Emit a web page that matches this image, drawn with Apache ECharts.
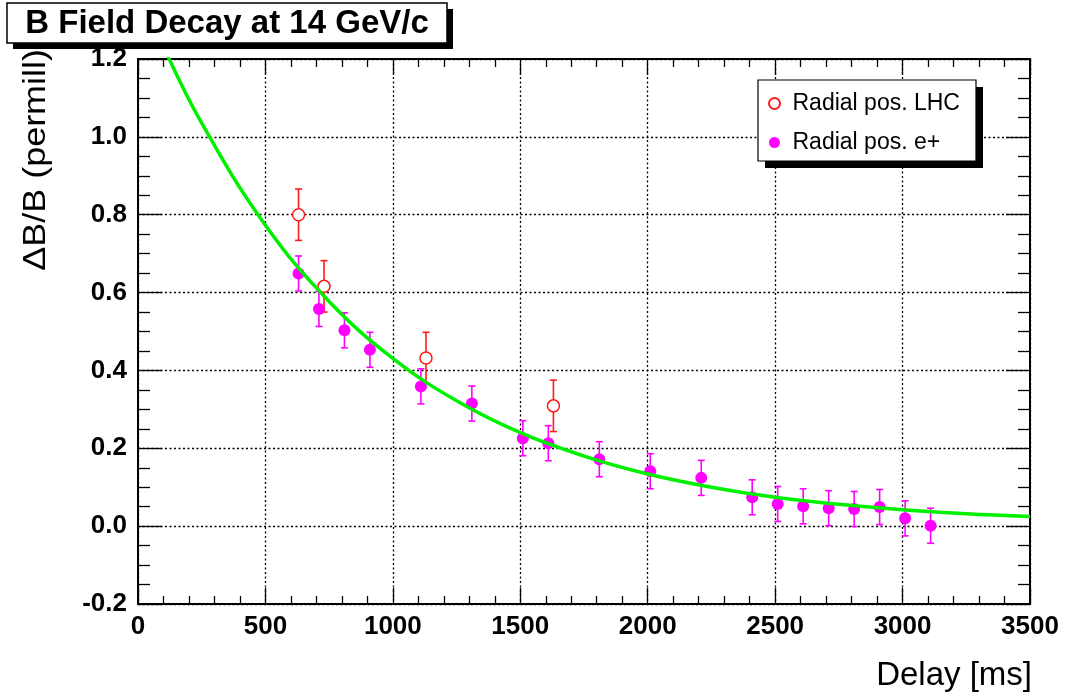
<!DOCTYPE html>
<html>
<head>
<meta charset="utf-8">
<title>B Field Decay at 14 GeV/c</title>
<script src="https://cdn.jsdelivr.net/npm/echarts@6/dist/echarts.min.js"></script>
<style>
  html, body { margin: 0; padding: 0; background: #fff; }
  #chart { width: 1069px; height: 698px; }
</style>
</head>
<body>
<div id="chart"></div>
<script>
const FONT = '"Liberation Sans", Arial, Helvetica, sans-serif';

// Axis ticks
const xTicks = [0, 500, 1000, 1500, 2000, 2500, 3000, 3500];
const yTicks = [-0.2, 0.0, 0.2, 0.4, 0.6, 0.8, 1.0, 1.2];

// Radial position, LHC beam (delay in ms, dB/B in permill, error)
const lhcDelay = [630, 730, 1130, 1630];
const lhcValue = [0.800, 0.616, 0.432, 0.309];
const lhcError = [0.066, 0.066, 0.066, 0.066];

// Radial position, e+ beam
const epDelay = [630, 710, 810, 910, 1110, 1310, 1510, 1610, 1810, 2010,
                 2210, 2410, 2510, 2610, 2710, 2810, 2910, 3010, 3110];
const epValue = [0.649, 0.558, 0.503, 0.453, 0.359, 0.315, 0.226, 0.213, 0.172, 0.141,
                 0.124, 0.074, 0.057, 0.051, 0.046, 0.044, 0.049, 0.020, 0.001];
const epError = [0.045, 0.045, 0.045, 0.045, 0.045, 0.045, 0.045, 0.045, 0.045, 0.045,
                 0.045, 0.045, 0.045, 0.045, 0.045, 0.045, 0.045, 0.045, 0.045];

// Exponential decay fit, sampled along the delay axis
const fitDelay = [100, 250, 500, 750, 1000, 1250, 1500, 1750, 2000, 2250, 2500, 2750, 3000, 3250, 3500];
const fitValue = [1.232, 1.035, 0.773, 0.577, 0.431, 0.322, 0.240, 0.180, 0.134, 0.100, 0.074, 0.056, 0.042, 0.032, 0.025];

const LHC_NAME = 'Radial pos. LHC';
const EP_NAME = 'Radial pos. e+';

const xMin = xTicks[0], xMax = xTicks[xTicks.length - 1], xStep = xTicks[1] - xTicks[0];
const yMin = yTicks[0], yMax = yTicks[yTicks.length - 1];
const yStep = Math.round((yTicks[1] - yTicks[0]) * 1000) / 1000;

function errorRows(xs, vs, es) {
  return xs.map((x, i) => [x, vs[i] - es[i], vs[i] + es[i]]);
}

// Vertical error bar with short caps at both ends
function errorBar(color) {
  return function (params, api) {
    const x = api.value(0);
    const top = api.coord([x, api.value(2)]);
    const bot = api.coord([x, api.value(1)]);
    const half = 3.5;
    const style = { stroke: color, lineWidth: 1.6 };
    return {
      type: 'group',
      children: [
        { type: 'line', shape: { x1: top[0], y1: top[1], x2: bot[0], y2: bot[1] }, style },
        { type: 'line', shape: { x1: top[0] - half, y1: top[1], x2: top[0] + half, y2: top[1] }, style },
        { type: 'line', shape: { x1: bot[0] - half, y1: bot[1], x2: bot[0] + half, y2: bot[1] }, style }
      ]
    };
  };
}

const frameLine = { color: '#000', width: 2 };
const gridDots = { color: '#000', width: 1.3, type: [2, 2.5] };

function xAxisDef(position, main) {
  return {
    type: 'value', position, min: xMin, max: xMax, interval: xStep,
    axisLine: { show: true, onZero: false, lineStyle: frameLine },
    axisTick: { show: true, inside: true, length: 16, lineStyle: { color: '#000', width: 1.3 } },
    minorTick: { show: true, splitNumber: 5, length: 8, lineStyle: { color: '#000', width: 1.3 } },
    splitLine: { show: main, lineStyle: gridDots },
    axisLabel: main ? {
      show: true, color: '#000', fontFamily: FONT, fontWeight: 'bold', fontSize: 26, margin: 10,
      formatter: v => String(v)
    } : { show: false }
  };
}

function yAxisDef(position, main) {
  return {
    type: 'value', position, min: yMin, max: yMax, interval: yStep,
    axisLine: { show: true, onZero: false, lineStyle: frameLine },
    axisTick: { show: true, inside: true, length: 24, lineStyle: { color: '#000', width: 1.3 } },
    minorTick: { show: true, splitNumber: 4, length: 12, lineStyle: { color: '#000', width: 1.3 } },
    splitLine: { show: main, lineStyle: gridDots },
    axisLabel: main ? {
      show: true, color: '#000', fontFamily: FONT, fontWeight: 'bold', fontSize: 26, margin: 11,
      padding: [3, 0, 0, 0],
      formatter: v => v.toFixed(1)
    } : { show: false }
  };
}

const chart = echarts.init(document.getElementById('chart'), null, { renderer: 'canvas' });

chart.setOption({
  backgroundColor: '#fff',
  animation: false,
  grid: {
    left: 138, right: 39, top: 59, bottom: 94,
    show: true, borderColor: '#000', borderWidth: 2, backgroundColor: 'transparent',
    containLabel: false, outerBoundsMode: 'none'
  },
  xAxis: [xAxisDef('bottom', true), xAxisDef('top', false)],
  yAxis: [yAxisDef('left', true), yAxisDef('right', false)],
  legend: {
    data: [LHC_NAME, EP_NAME],
    orient: 'vertical',
    left: 768, top: 92,
    padding: 0,
    itemGap: 16,
    itemWidth: 26, itemHeight: 11,
    selectedMode: false,
    z: 6,
    textStyle: { color: '#000', fontFamily: FONT, fontSize: 23, lineHeight: 23 }
  },
  graphic: [
    // title box with drop shadow
    { type: 'rect', z: 3, shape: { x: 13, y: 9, width: 440, height: 40 }, style: { fill: '#000' } },
    { type: 'rect', z: 4, shape: { x: 7, y: 3, width: 440, height: 40 },
      style: { fill: '#fff', stroke: '#000', lineWidth: 1.5 } },
    { type: 'text', z: 5, x: 227, y: 24,
      style: { text: 'B Field Decay at 14 GeV/c', font: 'bold 33px ' + FONT, fill: '#000',
               textAlign: 'center', textVerticalAlign: 'middle' } },
    // legend box with drop shadow
    { type: 'rect', z: 3, shape: { x: 765, y: 87, width: 218, height: 81 }, style: { fill: '#000' } },
    { type: 'rect', z: 4, shape: { x: 758, y: 80, width: 218, height: 81 },
      style: { fill: '#fff', stroke: '#000', lineWidth: 1.2 } },
    // axis titles
    { type: 'text', z: 5, x: 36, y: 49, rotation: Math.PI / 2, scaleX: 1.16,
      style: { text: '\u0394B/B (permill)', font: '31px ' + FONT, fill: '#000',
               textAlign: 'right', textVerticalAlign: 'middle' } },
    { type: 'text', z: 5, x: 1032, y: 676,
      style: { text: 'Delay [ms]', font: '33px ' + FONT, fill: '#000',
               textAlign: 'right', textVerticalAlign: 'middle' } }
  ],
  series: [
    {
      type: 'custom', xAxisIndex: 0, yAxisIndex: 0, z: 2,
      renderItem: errorBar('#ff00ff'),
      encode: { x: 0, y: [1, 2] },
      data: errorRows(epDelay, epValue, epError)
    },
    {
      type: 'custom', xAxisIndex: 0, yAxisIndex: 0, z: 2,
      renderItem: errorBar('#ff1a1a'),
      encode: { x: 0, y: [1, 2] },
      data: errorRows(lhcDelay, lhcValue, lhcError)
    },
    {
      name: EP_NAME, type: 'scatter', xAxisIndex: 0, yAxisIndex: 0, z: 3,
      symbol: 'circle', symbolSize: 12,
      itemStyle: { color: '#ff00ff', opacity: 1 },
      data: epDelay.map((x, i) => [x, epValue[i]])
    },
    {
      name: LHC_NAME, type: 'scatter', xAxisIndex: 0, yAxisIndex: 0, z: 3,
      symbol: 'circle', symbolSize: 12,
      itemStyle: { color: '#fff', borderColor: '#ff1a1a', borderWidth: 1.5, opacity: 1 },
      data: lhcDelay.map((x, i) => [x, lhcValue[i]])
    },
    {
      name: 'fit', type: 'line', xAxisIndex: 0, yAxisIndex: 0, z: 4,
      smooth: 0.4, showSymbol: false, clip: true,
      lineStyle: { color: '#00f000', width: 3.5 },
      data: fitDelay.map((x, i) => [x, fitValue[i]])
    }
  ]
});
</script>
</body>
</html>
